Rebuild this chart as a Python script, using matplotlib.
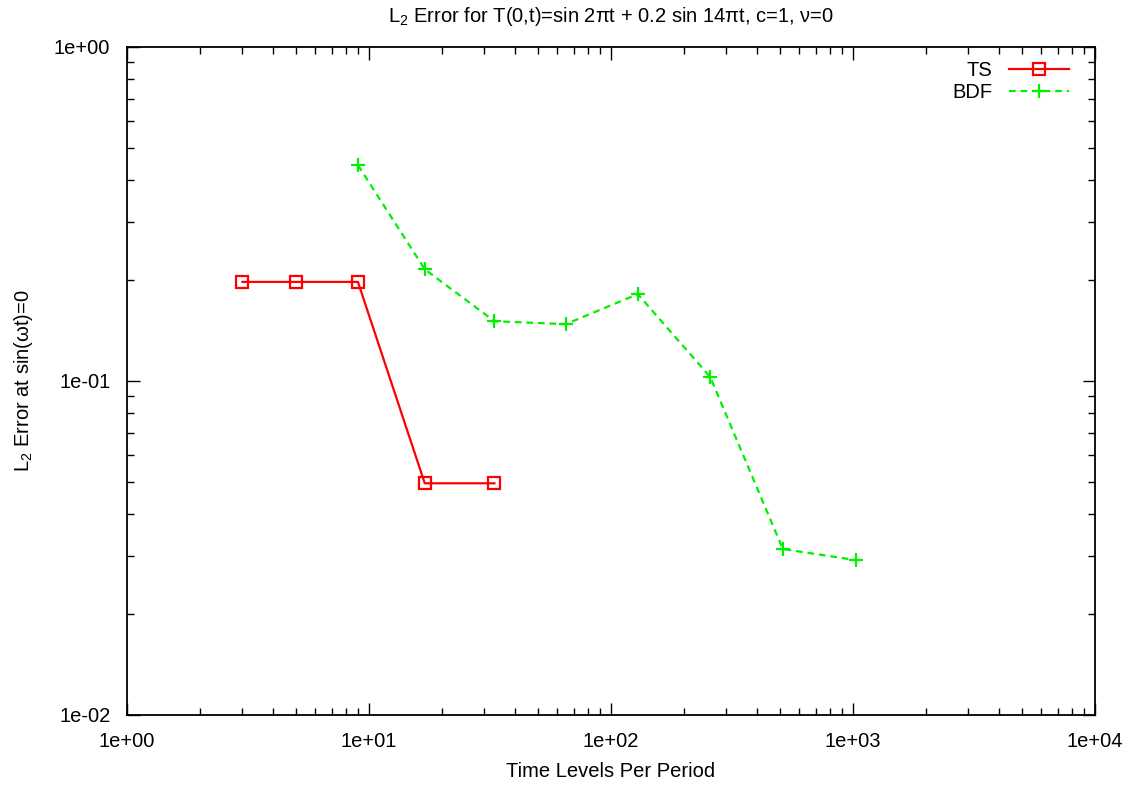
import matplotlib
matplotlib.use("Agg")
import matplotlib.pyplot as plt
from matplotlib.ticker import LogLocator, FixedLocator, NullFormatter

plt.rcParams['font.family'] = ['Liberation Sans', 'DejaVu Sans']
plt.rcParams['mathtext.fontset'] = 'custom'
plt.rcParams['mathtext.rm'] = 'Liberation Sans'

# time levels per period and L2 errors
ts_levels = [3, 5, 9, 17, 33]
ts_error = [0.198, 0.198, 0.198, 0.0494, 0.0494]
bdf_levels = [9, 17, 33, 65, 129, 257, 513, 1025]
bdf_error = [0.443, 0.216, 0.151, 0.148, 0.182, 0.1028, 0.0314, 0.0291]

x_ticks = [1, 10, 100, 1000, 10000]
x_ticklabels = ['1e+00', '1e+01', '1e+02', '1e+03', '1e+04']
y_ticks = [0.01, 0.1, 1]
y_ticklabels = ['1e-02', '1e-01', '1e+00']

fig = plt.figure(figsize=(11.39, 7.85), dpi=100)
ax = fig.add_axes([127 / 1139, 1 - 715 / 785, (1095 - 127) / 1139, (715 - 47) / 785])

ax.plot(ts_levels, ts_error, color='#ff0000', lw=1.6, marker='s', ms=9,
        mfc='none', mec='#ff0000', mew=1.6, label='TS')
ax.plot(bdf_levels, bdf_error, color='#00f000', lw=1.6, ls=(0, (3, 2.2)),
        marker='+', ms=10, mew=1.6, label='BDF')

ax.set_xscale('log')
ax.set_yscale('log')
ax.set_xlim(1, 1e4)
ax.set_ylim(1e-2, 1)

ax.xaxis.set_major_locator(FixedLocator(x_ticks))
ax.set_xticklabels(x_ticklabels)
ax.yaxis.set_major_locator(FixedLocator(y_ticks))
ax.set_yticklabels(y_ticklabels)
for axis in (ax.xaxis, ax.yaxis):
    axis.set_minor_locator(LogLocator(base=10, subs=range(2, 10), numticks=20))
    axis.set_minor_formatter(NullFormatter())

ax.tick_params(which='both', direction='in', top=True, right=True,
               labelsize=14.5, width=1.0, colors='black')
ax.tick_params(which='major', length=9, pad=12)
ax.tick_params(which='minor', length=5)
for s in ax.spines.values():
    s.set_linewidth(1.3)

ax.set_title(r'L$_2$ Error for T(0,t)=sin 2πt + 0.2 sin 14πt, c=1, ν=0',
             fontsize=14.5, pad=18)
ax.set_xlabel('Time Levels Per Period', fontsize=14.5, labelpad=8)
ax.set_ylabel(r'L$_2$ Error at sin(ωt)=0', fontsize=14.5, labelpad=14)

ax.legend(loc='upper right', bbox_to_anchor=(1069 / 1139, 1 - 61 / 785),
          bbox_transform=fig.transFigure, frameon=False, markerfirst=False,
          fontsize=14.5, handlelength=3.0, handletextpad=0.8,
          borderaxespad=0.0, borderpad=0.0, labelspacing=0.15)

fig.savefig('out.png', dpi=100)
